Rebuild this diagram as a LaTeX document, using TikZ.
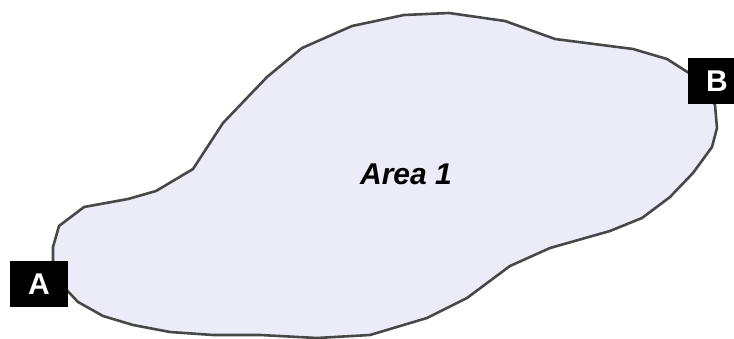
\documentclass[tikz,border=0pt]{standalone}
\usepackage{fontspec}
\setmainfont{Liberation Sans}
\usetikzlibrary{positioning}
\definecolor{areafill}{RGB}{236,236,248}
\definecolor{arealine}{RGB}{72,72,72}
\tikzset{
    region/.style={draw=arealine, fill=areafill, line width=2.6pt, line join=round}, % the outlined area
    corner/.style={fill=black, text=white, font=\bfseries\fontsize{30}{30}\selectfont,
        minimum width=58pt, minimum height=46pt, inner sep=0pt}, % black label boxes
}

\begin{document}
\begin{tikzpicture}[x=1pt, y=-1pt]
    \useasboundingbox (0,0) rectangle (734,339);
    \draw[region] (59,226) -- (84,207) -- (128,199) -- (156,191) -- (193,169)
        -- (223,123) -- (267,77) -- (302,48) -- (352,26) -- (404,15) -- (449,13)
        -- (505,21) -- (555,39) -- (633,49) -- (667,59) -- (700,80) -- (715,105)
        -- (717,128) -- (712,147) -- (693,173) -- (670,197) -- (642,218)
        -- (610,231) -- (550,248) -- (510,266) -- (467,298) -- (427,318)
        -- (370,335) -- (317,338) -- (260,335) -- (213,335) -- (170,332)
        -- (133,325) -- (103,316) -- (78,302) -- (62,285) -- (53,262)
        -- (53,247) -- cycle;
    \node[font=\bfseries\itshape\fontsize{30}{30}\selectfont] (area) at (406,174) {Area 1};
    \node[corner] (A) at (39,284) {A};
    \node[corner] (B) at (717,81.5) {B};
\end{tikzpicture}
\end{document}
